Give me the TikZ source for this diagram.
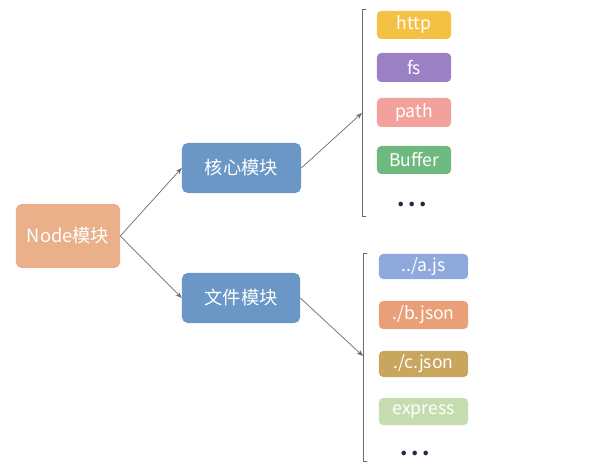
\documentclass[tikz,border=0pt]{standalone}
\usepackage{fontspec}
\setmainfont{Noto Sans CJK SC}
\usepackage{tikz}
\usetikzlibrary{arrows.meta}
\usepackage{xcolor}
\definecolor{nodeorange}{HTML}{E9B08A}
\definecolor{modblue}{HTML}{6A97C6}
\definecolor{httpyellow}{HTML}{F5C144}
\definecolor{fspurple}{HTML}{9B80C5}
\definecolor{pathpink}{HTML}{F3A19B}
\definecolor{buffergreen}{HTML}{6EBA7E}
\definecolor{jsblue}{HTML}{8FA9DD}
\definecolor{jsonorange}{HTML}{E9A079}
\definecolor{jsongold}{HTML}{C9A65E}
\definecolor{expressgreen}{HTML}{C5DCAF}
\definecolor{dotnavy}{HTML}{1F2A44}
\tikzset{
  modbox/.style={rounded corners=4pt,text=white,inner sep=0pt,font=\fontsize{13}{14}\selectfont},
  itembox/.style={rounded corners=3pt,text=white,inner sep=0pt,font=\fontsize{12.5}{13}\selectfont},
  dots/.style={text=dotnavy,font=\bfseries\fontsize{15}{15}\selectfont},
  link/.style={->,gray!85!black,line width=0.5pt},
  brace/.style={gray!85!black,line width=0.6pt}
}
\begin{document}
\begin{tikzpicture}[x=0.025cm,y=-0.025cm,>={Stealth[length=1.6mm,width=1.2mm]},line cap=round]
\useasboundingbox (0,0) rectangle (599,464);
\node[modbox,fill=nodeorange,minimum width=2.6cm,minimum height=1.6cm] (node) at (68,236) {Node模块};
\node[modbox,fill=modblue,minimum width=2.975cm,minimum height=1.25cm] (core) at (241.5,168) {核心模块};
\node[modbox,fill=modblue,minimum width=2.95cm,minimum height=1.25cm] (file) at (241,298) {文件模块};
\draw[link] (node.east) -- (core.west);
\draw[link] (node.east) -- (file.west);
% core modules
\draw[brace] (366,9) -- (362,9) -- (362,216) -- (366,216);
\coordinate (coreend) at (362,113);
\draw[link] (core.east) -- (coreend);
\node[itembox,fill=httpyellow,minimum width=1.85cm,minimum height=0.7cm] (http) at (414,25) {http};
\node[itembox,fill=fspurple,minimum width=1.85cm,minimum height=0.725cm] (fs) at (414,67.5) {fs};
\node[itembox,fill=pathpink,minimum width=1.85cm,minimum height=0.725cm] (path) at (414,112.5) {path};
\node[itembox,fill=buffergreen,minimum width=1.85cm,minimum height=0.7cm] (buffer) at (414,160) {Buffer};
\node[dots] (coredots) at (412,204) {.\,.\,.};
% file modules
\draw[brace] (367,253) -- (363,253) -- (363,461) -- (367,461);
\coordinate (fileend) at (363,356);
\draw[link] (file.east) -- (fileend);
\node[itembox,fill=jsblue,minimum width=2.225cm,minimum height=0.625cm] (ajs) at (423.5,266.5) {../a.js};
\node[itembox,fill=jsonorange,minimum width=2.225cm,minimum height=0.7cm] (bjson) at (423.5,315) {./b.json};
\node[itembox,fill=jsongold,minimum width=2.225cm,minimum height=0.65cm] (cjson) at (423.5,364) {./c.json};
\node[itembox,fill=expressgreen,minimum width=2.225cm,minimum height=0.675cm] (express) at (423.5,411.5) {express};
\node[dots] (filedots) at (415,453) {.\,.\,.};
\end{tikzpicture}
\end{document}
